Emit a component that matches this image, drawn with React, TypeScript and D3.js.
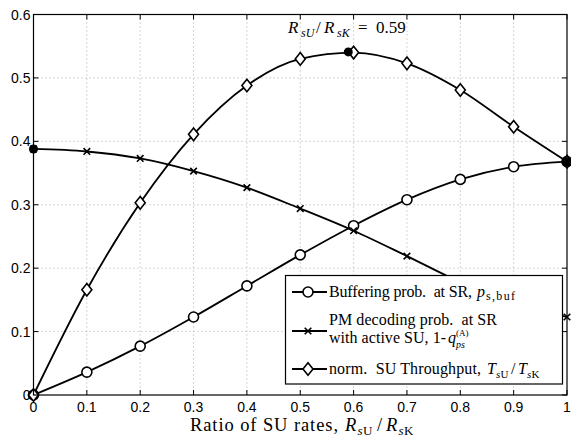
import React from "react";
import * as d3 from "d3";

const xVals = [0, 0.1, 0.2, 0.3, 0.4, 0.5, 0.6, 0.7, 0.8, 0.9, 1.0];
const bufferingProb = [0, 0.036, 0.077, 0.123, 0.172, 0.221, 0.267, 0.308, 0.340, 0.360, 0.368];
const pmDecodingProb = [0.388, 0.384, 0.373, 0.353, 0.327, 0.294, 0.259, 0.219, 0.178, 0.145, 0.123];
const suThroughput = [0, 0.166, 0.303, 0.411, 0.488, 0.530, 0.540, 0.523, 0.481, 0.423, 0.368];
const optimum = { x: 0.59, y: 0.541 };
const startDot = { x: 0, y: 0.388 };
const endDot = { x: 1, y: 0.368 };
const xTicks = [0, 0.1, 0.2, 0.3, 0.4, 0.5, 0.6, 0.7, 0.8, 0.9, 1];
const yTicks = [0, 0.1, 0.2, 0.3, 0.4, 0.5, 0.6];

const W = 571, H = 438;
const L = 33.5, R = 567, T = 14.5, B = 395;

const sans: React.CSSProperties = { fontFamily: "Liberation Sans, Arial, Helvetica, sans-serif" };
const serif: React.CSSProperties = { fontFamily: "Liberation Serif, Times New Roman, DejaVu Serif, serif", whiteSpace: "pre" };
const NB = "\u00A0";

type P = { x: number; y: number; s: string; f: number; it?: boolean; tl?: number };
const Txt = ({ x, y, s, f, it, tl }: P) => (
  <text x={x} y={y} style={serif} fontSize={f} fontStyle={it ? "italic" : "normal"}
    {...(tl ? { textLength: tl, lengthAdjust: "spacing" } : {})}>{s}</text>
);

export default function App() {
  const x = d3.scaleLinear().domain([0, 1]).range([L, R]);
  const y = d3.scaleLinear().domain([0, 0.6]).range([B, T]);
  const line = d3.line<number>().x((_, i) => x(xVals[i])).y((d) => y(d)).curve(d3.curveMonotoneX);

  const circle = (cx: number, cy: number, k: string) => (
    <circle key={k} cx={cx} cy={cy} r={5} fill="white" stroke="black" strokeWidth={1.6} />
  );
  const cross = (cx: number, cy: number, k: string) => (
    <path key={k} d={`M${cx - 3.3},${cy - 3.3}L${cx + 3.3},${cy + 3.3}M${cx - 3.3},${cy + 3.3}L${cx + 3.3},${cy - 3.3}`} stroke="black" strokeWidth={1.6} />
  );
  const diamond = (cx: number, cy: number, k: string) => (
    <path key={k} d={`M${cx},${cy - 6.3}L${cx + 5},${cy}L${cx},${cy + 6.3}L${cx - 5},${cy}Z`} fill="white" stroke="black" strokeWidth={1.6} />
  );

  const lx0 = 292, lx1 = 327, lxm = 308, ltx = 329;
  const LF = 16, SF = 11;
  const XB = 431;

  return (
    <svg width={W} height={H} style={{ position: "absolute", left: 0, top: 0, background: "white" }}>
      <rect x={0} y={0} width={W} height={H} fill="white" />
      {xTicks.slice(1, -1).map((t) => (
        <line key={"gx" + t} x1={x(t)} x2={x(t)} y1={T} y2={B} stroke="#aaa" strokeWidth={1} strokeDasharray="1,3" />
      ))}
      {yTicks.slice(1, -1).map((t) => (
        <line key={"gy" + t} x1={L} x2={R} y1={y(t)} y2={y(t)} stroke="#aaa" strokeWidth={1} strokeDasharray="1,3" />
      ))}
      {xTicks.map((t) => (
        <g key={"tx" + t}>
          <line x1={x(t)} x2={x(t)} y1={B} y2={B - 5} stroke="black" />
          <line x1={x(t)} x2={x(t)} y1={T} y2={T + 5} stroke="black" />
          <text x={x(t)} y={B + 17} textAnchor="middle" style={sans} fontSize={14}>{String(t)}</text>
        </g>
      ))}
      {yTicks.map((t) => (
        <g key={"ty" + t}>
          <line x1={L} x2={L + 5} y1={y(t)} y2={y(t)} stroke="black" />
          <line x1={R} x2={R - 5} y1={y(t)} y2={y(t)} stroke="black" />
          <text x={L - 3} y={y(t) + 5} textAnchor="end" style={sans} fontSize={14}>{String(t)}</text>
        </g>
      ))}
      <path d={line(bufferingProb) || ""} fill="none" stroke="black" strokeWidth={1.8} />
      <path d={line(pmDecodingProb) || ""} fill="none" stroke="black" strokeWidth={1.8} />
      <path d={line(suThroughput) || ""} fill="none" stroke="black" strokeWidth={1.8} />
      {bufferingProb.map((v, i) => circle(x(xVals[i]), y(v), "c" + i))}
      {pmDecodingProb.map((v, i) => cross(x(xVals[i]), y(v), "x" + i))}
      {suThroughput.map((v, i) => diamond(x(xVals[i]), y(v), "d" + i))}
      <circle cx={x(optimum.x)} cy={y(optimum.y)} r={4.5} fill="black" />
      <circle cx={x(startDot.x)} cy={y(startDot.y)} r={4.5} fill="black" />
      <circle cx={x(endDot.x)} cy={y(endDot.y)} r={4.5} fill="black" />
      <rect x={L} y={T} width={R - L} height={B - T} fill="none" stroke="black" strokeWidth={1.2} />

      {/* annotation */}
      <Txt x={288} y={33} s="R" f={17} it />
      <Txt x={301} y={36.5} s="sU" f={12} it />
      <Txt x={316} y={33} s="/" f={17} />
      <Txt x={324} y={33} s="R" f={17} it />
      <Txt x={337} y={36.5} s="sK" f={12} it />
      <Txt x={358} y={33} s="=" f={17} />
      <Txt x={376} y={33} s="0.59" f={17} />

      {/* legend */}
      <rect x={285.5} y={275.5} width={277} height={108.5} fill="white" stroke="black" strokeWidth={1.2} />
      <line x1={lx0} x2={lx1} y1={292} y2={292} stroke="black" strokeWidth={1.8} />
      {circle(lxm, 292, "lc")}
      <Txt x={ltx} y={297} s={"Buffering prob." + NB + " at SR,"} f={LF} tl={143} />
      <Txt x={477} y={297} s="p" f={LF} it />
      <Txt x={486} y={300} s="s,buf" f={12} tl={29} />

      <line x1={lx0} x2={lx1} y1={331} y2={331} stroke="black" strokeWidth={1.8} />
      {cross(lxm, 331, "lx")}
      <Txt x={ltx} y={324.5} s={"PM decoding prob." + NB + " at SR"} f={LF} tl={168} />
      <Txt x={ltx} y={343} s="with active SU, 1-" f={LF} tl={117} />
      <Txt x={448} y={343} s="q" f={LF} it />
      <Txt x={456} y={347.5} s="ps" f={10} it />
      <Txt x={456} y={336} s="(A)" f={9} />

      <line x1={lx0} x2={lx1} y1={369} y2={369} stroke="black" strokeWidth={1.8} />
      {diamond(lxm, 369, "ld")}
      <Txt x={ltx} y={374} s={"norm." + NB + " SU Throughput,"} f={LF} tl={152} />
      <Txt x={487} y={374} s="T" f={LF} it />
      <Txt x={496} y={377.5} s="s" f={SF} it />
      <Txt x={500.5} y={377.5} s="U" f={SF} />
      <Txt x={511} y={374} s="/" f={LF} />
      <Txt x={518} y={374} s="T" f={LF} it />
      <Txt x={527} y={377.5} s="s" f={SF} it />
      <Txt x={531.5} y={377.5} s="K" f={SF} />

      {/* x label */}
      <Txt x={190} y={XB} s="Ratio of SU rates," f={18.5} tl={148} />
      <Txt x={345} y={XB} s="R" f={18.5} it />
      <Txt x={357.5} y={XB + 3.5} s="s" f={13} it />
      <Txt x={363} y={XB + 3.5} s="U" f={13} />
      <Txt x={377} y={XB} s="/" f={18.5} />
      <Txt x={386} y={XB} s="R" f={18.5} it />
      <Txt x={398.5} y={XB + 3.5} s="s" f={13} it />
      <Txt x={404} y={XB + 3.5} s="K" f={13} />
    </svg>
  );
}
